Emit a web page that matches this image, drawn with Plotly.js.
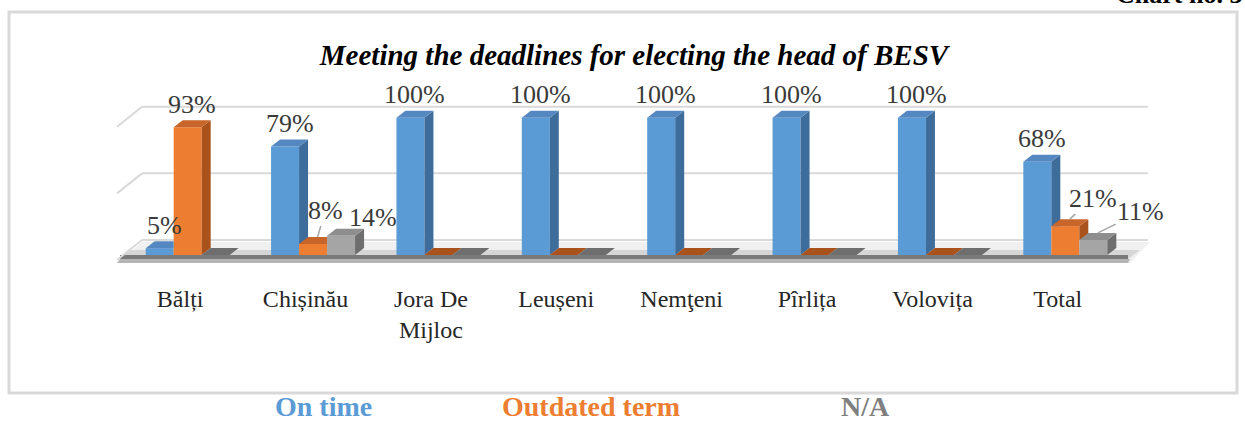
<!DOCTYPE html>
<html>
<head>
<meta charset="utf-8">
<script src="https://cdn.plot.ly/plotly-3.0.1.min.js"></script>
<style>
  html, body { margin: 0; padding: 0; background: #ffffff; }
  #chart { width: 1245px; height: 423px; }
</style>
</head>
<body>
<div id="chart"></div>
<script>
// ---------- DATA ----------
const categories = ['Bălți', 'Chișinău', 'Jora De Mijloc', 'Leușeni', 'Nemţeni', 'Pîrlița', 'Volovița', 'Total'];
const tickLabels = ['Bălți', 'Chișinău', 'Jora De<br>Mijloc', 'Leușeni', 'Nemţeni', 'Pîrlița', 'Volovița', 'Total'];
const seriesNames = ['On time', 'Outdated term', 'N/A'];
const onTime   = [5, 79, 100, 100, 100, 100, 100, 68];
const outdated = [93, 8, 0, 0, 0, 0, 0, 21];
const notAvail = [0, 14, 0, 0, 0, 0, 0, 11];
const gridValues = [0, 50, 100];
const chartTitle = 'Meeting the deadlines for electing the head of BESV';
const chartNo = 'Chart no. 3';

// ---------- STYLE / GEOMETRY ----------
const W = 1245, H = 423;
const M = {l: 125, r: 117, t: 104, b: 168};
const plotW = W - M.l - M.r, plotH = H - M.t - M.b;
const yMax = 110;
const pxPerUnitY = plotH / yMax;
const pxPerUnitX = plotW / 8;
const barW = 28 / pxPerUnitX;
const DX = 9 / pxPerUnitX;        // depth, data units (x)
const DY = 7 / pxPerUnitY;        // depth, data units (y)
const offsets = [-1.5 * barW, -0.5 * barW, 0.5 * barW];
const FONT = 'Liberation Serif, Times New Roman, serif';

const colors = [
  {front: '#5B9BD5', side: '#3E6D9C', top: '#5587C0'},
  {front: '#ED7D31', side: '#A9521B', top: '#C8652A'},
  {front: '#A5A5A5', side: '#6E6E6E', top: '#8E8E8E'}
];
const series = [onTime, outdated, notAvail];
const idx = categories.map((_, i) => i);

const pxX = px => (px - M.l) / plotW;
const pxY = py => (H - M.b - py) / plotH;

// ---------- TRACES ----------
const traces = series.map((vals, s) => ({
  type: 'bar',
  name: seriesNames[s],
  x: idx,
  y: vals,
  offset: offsets[s],
  width: barW,
  marker: {color: colors[s].front, line: {width: 0}},
  hoverinfo: 'skip',
  showlegend: false
}));

// ---------- SHAPES ----------
const shapes = [];

// outer frame
shapes.push({type: 'rect', xref: 'paper', yref: 'paper', layer: 'below',
  x0: pxX(9), x1: pxX(1237), y0: pxY(12), y1: pxY(393),
  line: {color: '#d9d9d9', width: 3}, fillcolor: 'rgba(0,0,0,0)'});

// floor
shapes.push({type: 'path', xref: 'paper', yref: 'paper', layer: 'below',
  path: `M ${pxX(117)},${pxY(263)} L ${pxX(1130)},${pxY(263)} L ${pxX(1150)},${pxY(242)} L ${pxX(142)},${pxY(242)} Z`,
  fillcolor: '#f0f0f0', line: {width: 0}});
shapes.push({type: 'path', xref: 'paper', yref: 'paper', layer: 'below',
  path: `M ${pxX(119)},${pxY(259)} L ${pxX(1128)},${pxY(259)} L ${pxX(1140)},${pxY(250)} L ${pxX(128)},${pxY(250)} Z`,
  fillcolor: '#d6d6d6', line: {width: 0}});
shapes.push({type: 'rect', xref: 'paper', yref: 'paper', layer: 'below',
  x0: pxX(120), x1: pxX(1128), y0: pxY(255), y1: pxY(259),
  fillcolor: '#7a7a7a', line: {width: 0}});
shapes.push({type: 'path', xref: 'paper', yref: 'paper', layer: 'below',
  path: `M ${pxX(117)},${pxY(263)} L ${pxX(1128)},${pxY(263)} L ${pxX(1130)},${pxY(259)} L ${pxX(120)},${pxY(259)} Z`,
  fillcolor: '#b5b5b5', line: {width: 0}});

// back wall gridlines + left wall diagonals
gridValues.forEach(v => {
  const yb = H - M.b - v * pxPerUnitY - (15 - 0.04 * v);
  shapes.push({type: 'line', xref: 'paper', yref: 'paper', layer: 'below',
    x0: pxX(142), x1: pxX(1148), y0: pxY(yb), y1: pxY(yb),
    line: {color: '#d9d9d9', width: 2}});
  shapes.push({type: 'line', xref: 'paper', yref: 'paper', layer: 'below',
    x0: pxX(117), x1: pxX(142), y0: pxY(yb + 20), y1: pxY(yb),
    line: {color: '#d9d9d9', width: 2}});
});

// 3D side and top faces for each bar, computed from the data
idx.forEach(i => {
  series.forEach((vals, s) => {
    const v = vals[i];
    const L = i + offsets[s];
    const R = L + barW;
    const next = s < series.length - 1 ? series[s + 1][i] : 0;
    const b = Math.max(next, 0);
    if (b < v) {
      let path;
      if (b <= 0) {
        path = `M ${R},0 L ${R + DX},${DY} L ${R + DX},${v + DY} L ${R},${v} Z`;
      } else {
        const bR = Math.max(b, DY);
        path = `M ${R},${b} L ${R + DX},${bR} L ${R + DX},${v + DY} L ${R},${v} Z`;
      }
      shapes.push({type: 'path', xref: 'x', yref: 'y', path: path,
        fillcolor: colors[s].side, line: {width: 0}});
    }
    let tpath;
    if (next >= v + DY) {
      tpath = `M ${L},${v} L ${R},${v} L ${R},${v + DY} L ${L + DX},${v + DY} Z`;
    } else {
      tpath = `M ${L},${v} L ${R},${v} L ${R + DX},${v + DY} L ${L + DX},${v + DY} Z`;
    }
    shapes.push({type: 'path', xref: 'x', yref: 'y', path: tpath,
      fillcolor: v === 0 ? colors[s].side : colors[s].top, line: {width: 0}});
  });
});

// ---------- ANNOTATIONS ----------
const annotations = [];
// label placement tweaks (pixels): [ax, ay, leaderLine]
const labelTweaks = {
  '1-1': [8, -27, true],
  '1-2': [27, -11, false],
  '7-1': [23, -21, true],
  '7-2': [43, -21, true]
};
idx.forEach(i => {
  series.forEach((vals, s) => {
    const v = vals[i];
    if (v <= 0) return;
    const t = labelTweaks[i + '-' + s] || [0, -16, false];
    annotations.push({
      x: i + offsets[s] + barW / 2 + DX / 2, y: v + DY, xref: 'x', yref: 'y',
      text: v + '%', showarrow: true, arrowhead: 0, standoff: 0,
      arrowcolor: t[2] ? '#a6a6a6' : 'rgba(0,0,0,0)', arrowwidth: 1.5,
      ax: t[0], ay: t[1], axref: 'pixel', ayref: 'pixel',
      font: {family: FONT, size: 26, color: '#3a3a3a'}
    });
  });
});

// legend (text only, as in the source)
const legendX = [323, 591, 865];
seriesNames.forEach((n, s) => {
  annotations.push({
    xref: 'paper', yref: 'paper', x: pxX(legendX[s]), y: pxY(406),
    xanchor: 'center', yanchor: 'middle', showarrow: false,
    text: '<b>' + n + '</b>',
    font: {family: FONT, size: 28, color: s === 2 ? '#808080' : colors[s].front}
  });
});

// cut-off chart number at top right
annotations.push({
  xref: 'paper', yref: 'paper', x: pxX(1114), y: pxY(11),
  xanchor: 'left', yanchor: 'bottom', showarrow: false,
  text: '<b>' + chartNo + '</b>',
  font: {family: FONT, size: 26, color: '#000000'}
});

// ---------- LAYOUT ----------
const layout = {
  width: W, height: H,
  margin: M,
  paper_bgcolor: '#ffffff',
  plot_bgcolor: 'rgba(0,0,0,0)',
  barmode: 'overlay',
  showlegend: false,
  title: {
    text: '<b><i>' + chartTitle + '</i></b>',
    font: {family: FONT, size: 29, color: '#000000'},
    x: 634 / W, xanchor: 'center', xref: 'container',
    y: 1 - 55 / H, yanchor: 'middle', yref: 'container'
  },
  xaxis: {
    type: 'linear', range: [-0.5, 7.5],
    tickvals: idx.map(i => i - 0.06), ticktext: tickLabels,
    ticks: 'outside', ticklen: 22, tickcolor: 'rgba(0,0,0,0)',
    showgrid: false, zeroline: false, showline: false,
    tickfont: {family: FONT, size: 24, color: '#262626'},
    fixedrange: true
  },
  yaxis: {
    range: [0, yMax], visible: false, showgrid: false, zeroline: false, fixedrange: true
  },
  shapes: shapes,
  annotations: annotations
};

Plotly.newPlot('chart', traces, layout, {displayModeBar: false, staticPlot: true});
</script>
</body>
</html>
